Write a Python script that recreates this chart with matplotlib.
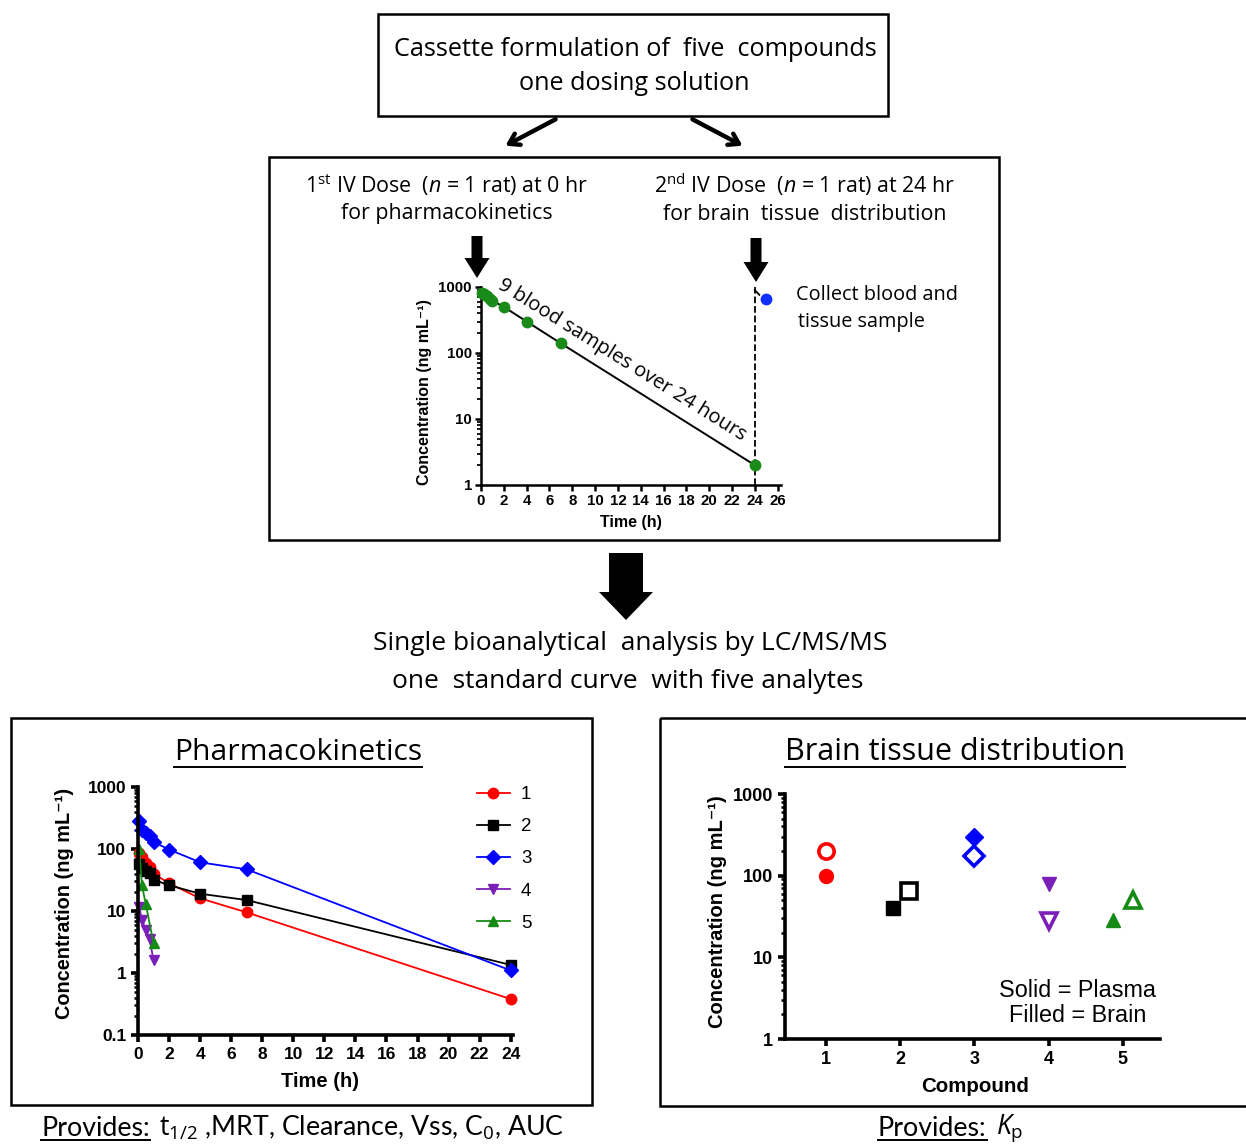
import numpy as np
import matplotlib.pyplot as plt
from matplotlib.patches import Rectangle, FancyArrow
from matplotlib.ticker import NullFormatter

W, H = 1246, 1145

# schematic: one compound, 9 blood samples, then 2nd dose at 24 h
demo_time = [0.083, 0.25, 0.5, 0.75, 1, 2, 4, 7, 24]
demo_conc = [820, 780, 720, 660, 620, 500, 300, 140, 2]
redose_time = [24, 24.4]
redose_conc = [900, 760]
tissue_time = 25
tissue_conc = 650

# pharmacokinetics of compounds 1-5
pk_labels = ['1', '2', '3', '4', '5']
pk_time = [
    [0.083, 0.25, 0.5, 0.75, 1, 2, 4, 7, 24],
    [0.083, 0.25, 0.5, 0.75, 1, 2, 4, 7, 24],
    [0.083, 0.25, 0.5, 0.75, 1, 2, 4, 7, 24],
    [0.083, 0.25, 0.5, 0.75, 1],
    [0.083, 0.25, 0.5, 1],
]
pk_conc = [
    [85, 75, 60, 52, 40, 28, 16, 9.5, 0.38],
    [58, 50, 44, 41, 32, 26, 19, 15, 1.35],
    [280, 205, 180, 160, 130, 98, 61, 47, 1.1],
    [11.5, 7.2, 5.0, 3.5, 1.6],
    [100, 26, 13, 3.0],
]

# brain tissue distribution at 25 h
compounds = [1, 2, 3, 4, 5]
plasma_conc = [100, 40, 300, 80, 29]
brain_conc = [200, 65, 175, 28, 50]

colors = ['#ff0000', '#000000', '#0000ff', '#7a1fb8', '#158a15']
markers = ['o', 's', 'D', 'v', '^']
plasma_shift = [0, -0.1, 0, 0, -0.13]
brain_shift = [0, 0.12, 0, 0, 0.13]

plt.rcParams['mathtext.fontset'] = 'custom'
plt.rcParams['mathtext.rm'] = 'Open Sans'
plt.rcParams['mathtext.it'] = 'Open Sans:italic'

DIAG = 'Open Sans'
NARROW = 'Lato'
PLOT = ['Liberation Sans', 'DejaVu Sans']

fig = plt.figure(figsize=(W / 100, H / 100), dpi=100)
fig.patch.set_facecolor('white')

# overlay in pixel coordinates for boxes, arrows and captions
ov = fig.add_axes([0, 0, 1, 1])
ov.set_xlim(0, W)
ov.set_ylim(H, 0)
ov.axis('off')


def px_axes(x0, y0, x1, y1):
    a = fig.add_axes([x0 / W, 1 - y1 / H, (x1 - x0) / W, (y1 - y0) / H])
    a.set_facecolor('none')
    return a


def box(x0, y0, x1, y1):
    ov.add_patch(Rectangle((x0, y0), x1 - x0, y1 - y0, fill=False,
                           edgecolor='black', lw=1.8))


def style_axes(a, lw, size):
    for s in ['top', 'right']:
        a.spines[s].set_visible(False)
    for s in ['left', 'bottom']:
        a.spines[s].set_linewidth(lw)
    a.tick_params(which='major', width=lw, length=5, labelsize=size)
    a.tick_params(which='minor', width=lw * 0.7, length=3)
    for lab in a.get_xticklabels() + a.get_yticklabels():
        lab.set_fontweight('bold')
        lab.set_family(PLOT)


# --- top box
box(378, 14, 888, 116)
ov.text(635, 50, 'Cassette formulation of  five  compounds', ha='center', va='center',
        fontsize=18.2, family=DIAG)
ov.text(634, 84, 'one dosing solution', ha='center', va='center', fontsize=18.2, family=DIAG)

for x0, x1 in [(558, 503), (690, 745)]:
    ov.annotate('', xy=(x1, 147), xytext=(x0, 118),
                arrowprops=dict(arrowstyle='->,head_length=0.7,head_width=0.45',
                                lw=3.2, color='black'))

# --- middle box
box(269, 157, 999, 540)
ov.text(447, 185, r'1$^{\mathrm{st}}$ IV Dose  ($\it{n}$ = 1 rat) at 0 hr', ha='center', va='center',
        fontsize=15.4, family=DIAG)
ov.text(447, 214, 'for pharmacokinetics', ha='center', va='center', fontsize=15.4, family=DIAG)
ov.text(805, 185, r'2$^{\mathrm{nd}}$ IV Dose  ($\it{n}$ = 1 rat) at 24 hr', ha='center', va='center',
        fontsize=15.4, family=DIAG)
ov.text(805, 214, 'for brain  tissue  distribution', ha='center', va='center', fontsize=15.4,
        family=DIAG)
ov.text(796, 295, 'Collect blood and', ha='left', va='center', fontsize=14.3, family=DIAG)
ov.text(798, 322, 'tissue sample', ha='left', va='center', fontsize=14.3, family=DIAG)

for xc, y0, y1 in [(477, 236, 278), (756, 238, 282)]:
    ov.add_patch(FancyArrow(xc, y0, 0, y1 - y0, width=11, head_width=25, head_length=20,
                            length_includes_head=True, color='black', lw=0))

# schematic concentration-time plot
sx = px_axes(481, 287, 781, 485)
sx.set_yscale('log')
sx.set_ylim(1, 1000)
sx.set_xlim(0, 26.3)
sx.plot(demo_time, demo_conc, color='black', lw=1.4, zorder=2)
sx.plot(demo_time, demo_conc, 'o', color='#1a8a1a', ms=7.5, zorder=3, clip_on=False)
sx.plot([24, 24], [1, 1000], '--', color='black', lw=1.3, clip_on=False)
sx.plot(redose_time, redose_conc, color='black', lw=1.3)
sx.plot(tissue_time, tissue_conc, 'o', color='#1030ff', ms=7.5, clip_on=False)
sx.set_xticks(np.arange(0, 27, 2))
sx.set_yticks([1, 10, 100, 1000])
sx.set_yticklabels(['1', '10', '100', '1000'])
sx.yaxis.set_minor_formatter(NullFormatter())
style_axes(sx, 1.8, 10.8)
sx.tick_params(which='major', length=4, pad=2.5)
sx.set_xlabel('Time (h)', fontsize=11.5, fontweight='bold', family=PLOT)
sx.set_ylabel('Concentration (ng mL\u207b\u00b9)', fontsize=11.5, fontweight='bold', family=PLOT)
sx.xaxis.set_label_coords(0.5, -0.15)
sx.yaxis.set_label_coords(-0.165, 0.47)
ov.text(622, 360, '9 blood samples over 24 hours', rotation=-32, ha='center', va='center',
        fontsize=14.5, family=DIAG, rotation_mode='anchor')

# --- big arrow + analysis text
ov.add_patch(FancyArrow(626, 553, 0, 67, width=34, head_width=54, head_length=28,
                        length_includes_head=True, color='black', lw=0))
ov.text(630, 643, 'Single bioanalytical  analysis by LC/MS/MS', ha='center', va='center',
        fontsize=19, family=DIAG)
ov.text(628, 681, 'one  standard curve  with five analytes', ha='center', va='center',
        fontsize=19, family=DIAG)

# --- bottom left: pharmacokinetics
box(11, 718, 592, 1105)
t_pk = ov.text(298, 752, 'Pharmacokinetics', ha='center', va='center', fontsize=21.6, family=DIAG)

pk = px_axes(138, 787, 513, 1035)
pk.set_yscale('log')
pk.set_ylim(0.1, 1000)
pk.set_xlim(0, 24.15)
for t, c, lab, col, mk in zip(pk_time, pk_conc, pk_labels, colors, markers):
    pk.plot(t, c, color=col, marker=mk, ms=7.5 if mk != 'D' else 7, lw=1.3, label=lab,
            clip_on=False)
pk.set_xticks(np.arange(0, 25, 2))
pk.set_yticks([0.1, 1, 10, 100, 1000])
pk.set_yticklabels(['0.1', '1', '10', '100', '1000'])
pk.yaxis.set_minor_formatter(NullFormatter())
style_axes(pk, 2.6, 12.5)
pk.set_xlabel('Time (h)', fontsize=14.5, fontweight='bold', family=PLOT)
pk.set_ylabel('Concentration (ng mL\u207b\u00b9)', fontsize=14.3, fontweight='bold', family=PLOT)
pk.xaxis.set_label_coords(0.485, -0.15)
pk.yaxis.set_label_coords(-0.17, 0.53)
leg = pk.legend(loc='upper left', bbox_to_anchor=(477 / W, 1 - 786 / H),
                bbox_transform=fig.transFigure, frameon=False, borderpad=0, borderaxespad=0,
                handlelength=1.75, handletextpad=0.6, labelspacing=0.8,
                prop={'family': PLOT, 'size': 13.5})

# --- bottom right: brain tissue distribution
box(660, 718, 1260, 1106)
t_br = ov.text(955, 752, 'Brain tissue distribution', ha='center', va='center', fontsize=22,
               family=DIAG)

br = px_axes(785, 794, 1160, 1039)
br.set_yscale('log')
br.set_ylim(1, 1000)
br.set_xlim(0.45, 5.5)
for i in range(len(compounds)):
    br.plot(compounds[i] + plasma_shift[i], plasma_conc[i], marker=markers[i], ls='none',
            color=colors[i], ms=10 if markers[i] != 'D' else 9, clip_on=False)
    br.plot(compounds[i] + brain_shift[i], brain_conc[i], marker=markers[i], ls='none',
            mec=colors[i], mfc='white', mew=2.6, ms=11 if markers[i] != 'D' else 10,
            clip_on=False)
br.set_xticks(compounds)
br.set_yticks([1, 10, 100, 1000])
br.set_yticklabels(['1', '10', '100', '1000'])
br.yaxis.set_minor_formatter(NullFormatter())
style_axes(br, 2.6, 13)
br.set_xlabel('Compound', fontsize=14.8, fontweight='bold', family=PLOT)
br.set_ylabel('Concentration (ng mL\u207b\u00b9)', fontsize=14.5, fontweight='bold', family=PLOT)
br.xaxis.set_label_coords(0.507, -0.155)
br.yaxis.set_label_coords(-0.155, 0.52)
br.text(0.78, 0.147, 'Solid = Plasma\nFilled = Brain', transform=br.transAxes, ha='center',
        va='center', fontsize=16.8, family=PLOT, linespacing=1.1)

# --- captions below
p1 = ov.text(41, 1128, 'Provides:', ha='left', va='center', fontsize=19.3, family=NARROW)
p2 = ov.text(878, 1128, 'Provides:', ha='left', va='center', fontsize=19.3, family=NARROW)

fig.canvas.draw()
inv = ov.transData.inverted()


def underline(txt, pad=2):
    bb = txt.get_window_extent()
    (x0, y0), (x1, y1) = inv.transform([[bb.x0, bb.y0], [bb.x1, bb.y1]])
    ov.plot([x0, x1], [y0 + pad, y0 + pad], color='black', lw=1.4)
    return x1


underline(t_pk, 0)
underline(t_br, 0)
e1 = underline(p1, -1)
e2 = underline(p2, -1)
ov.text(e1 + 9, 1128, r'$\mathrm{t}_{1/2}$ ,MRT, Clearance, Vss, C$_0$, AUC', ha='left', va='center',
        fontsize=19.3, family=NARROW)
ov.text(e2 + 9, 1128, r'$\it{K}_{\mathrm{p}}$', ha='left', va='center', fontsize=19.3, family=NARROW)

fig.savefig('out.png', dpi=100, facecolor='white')
